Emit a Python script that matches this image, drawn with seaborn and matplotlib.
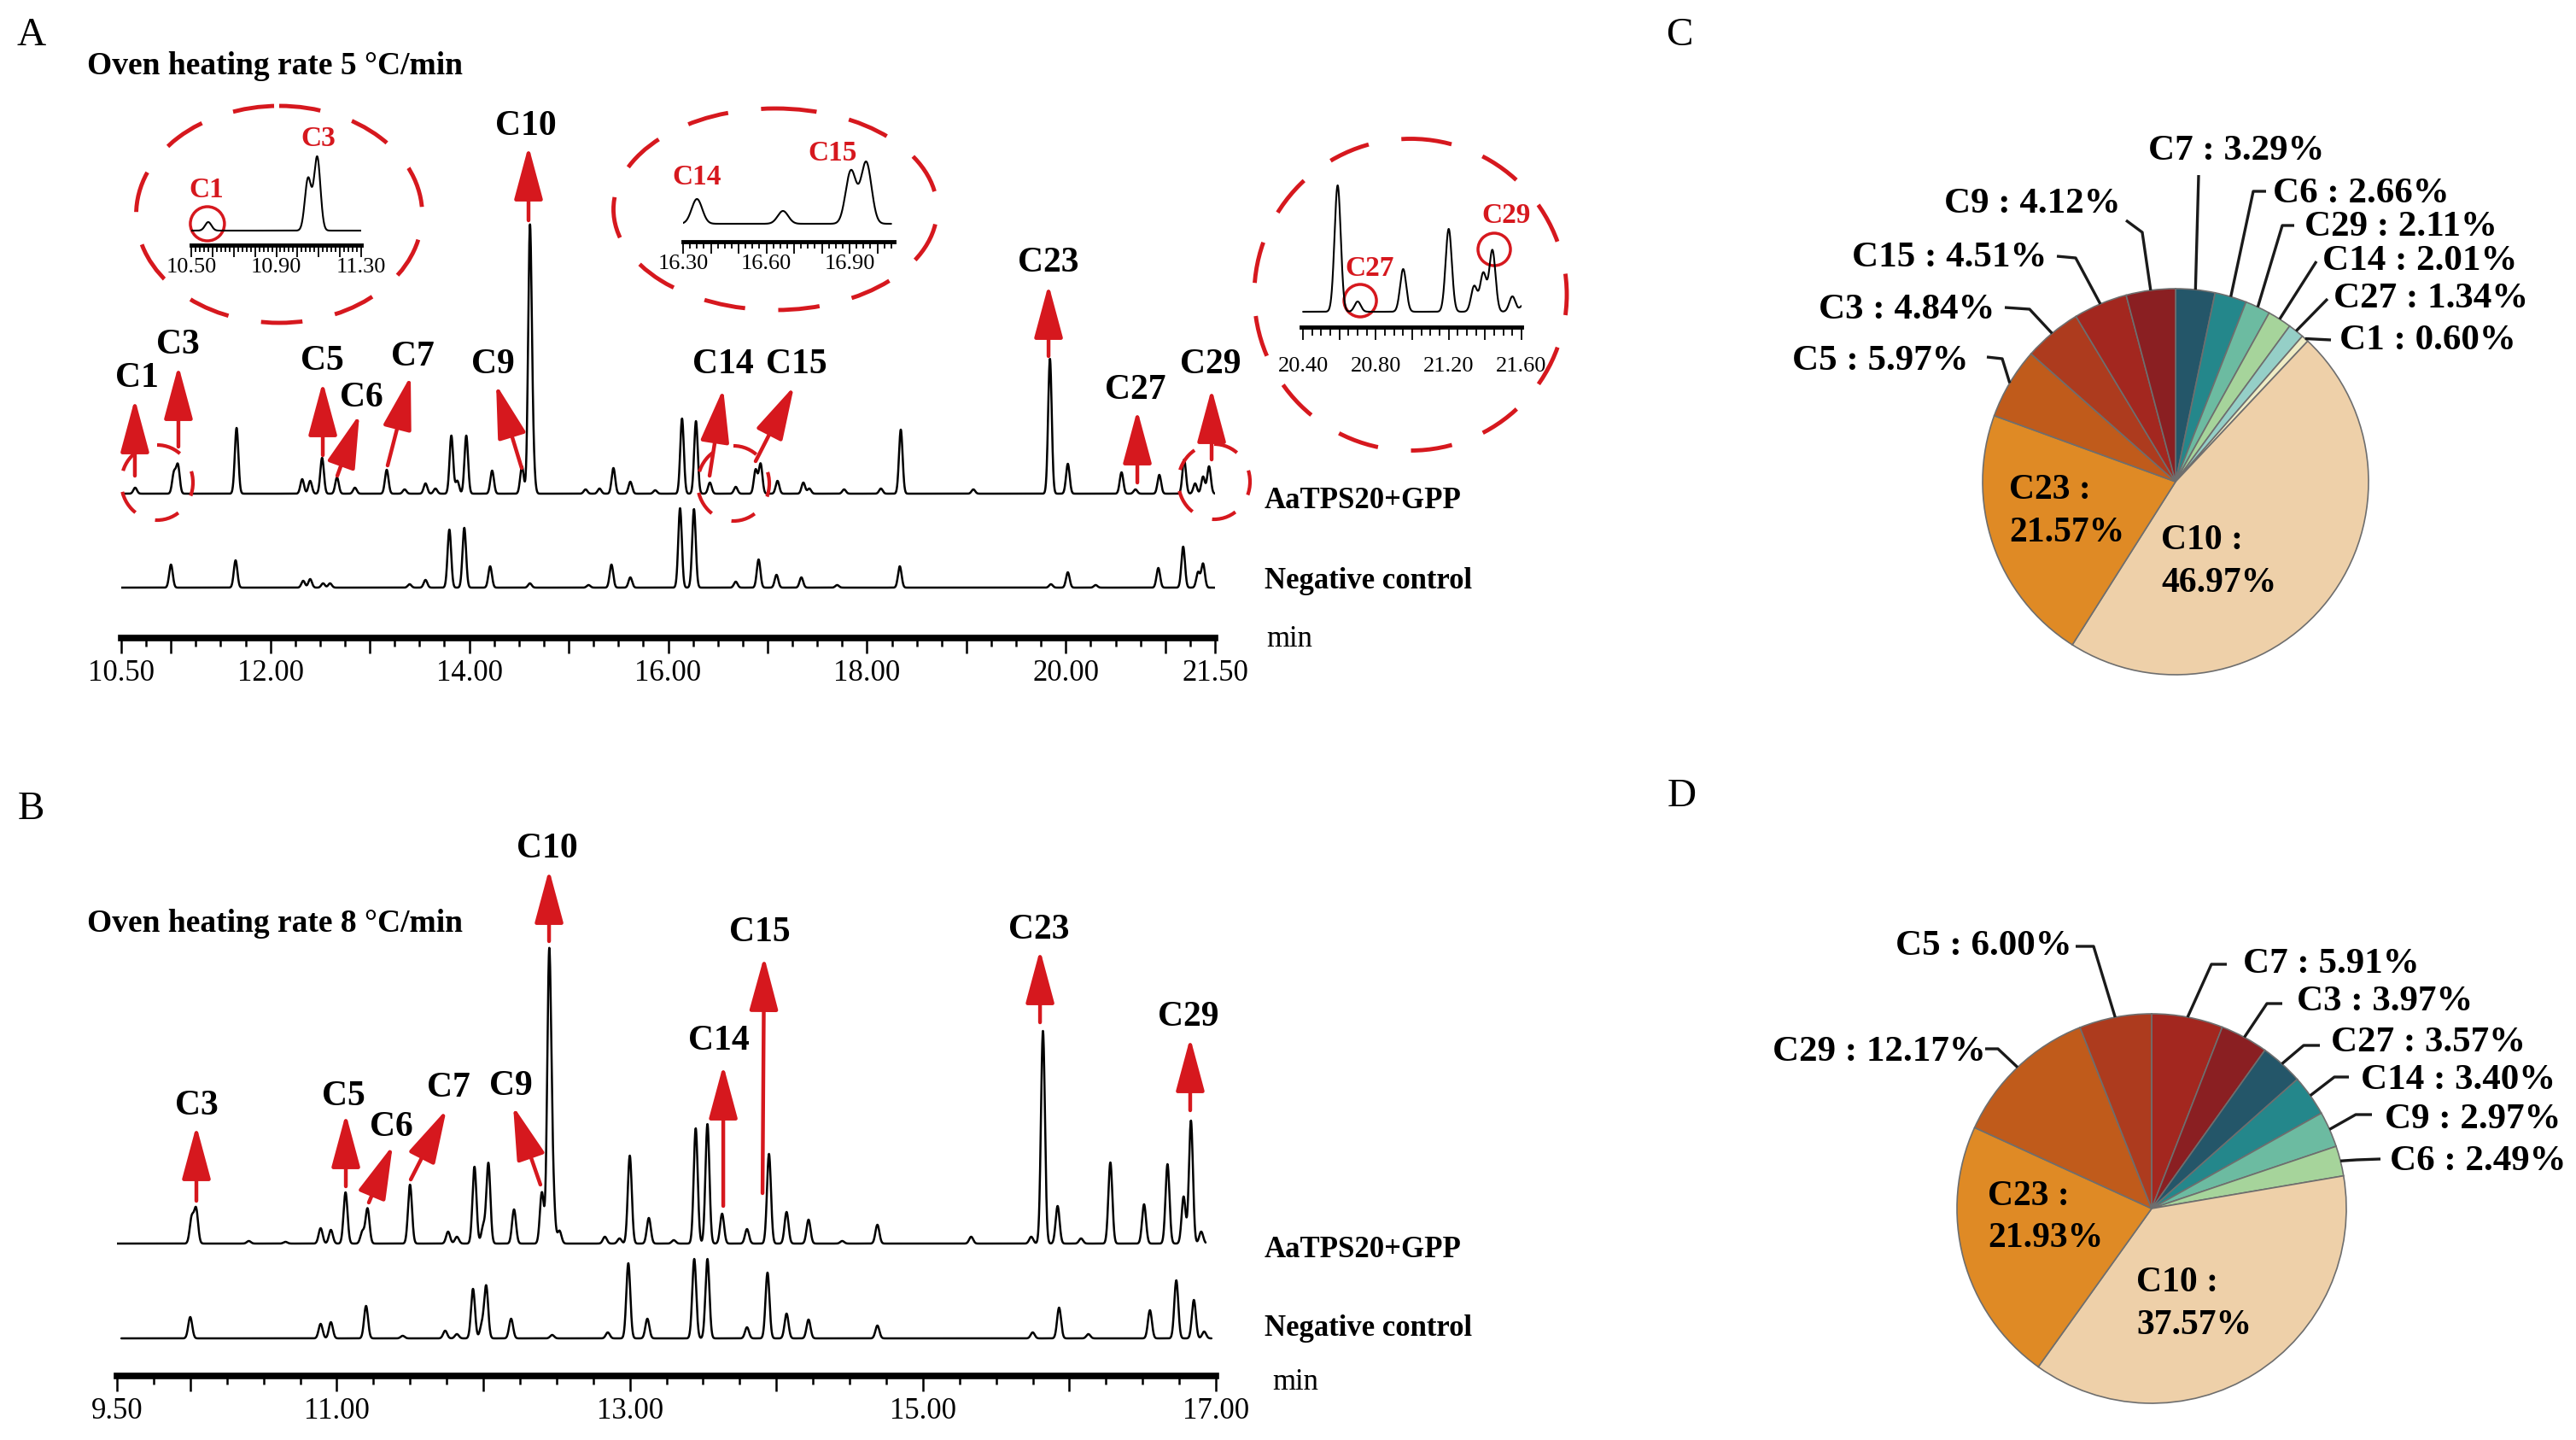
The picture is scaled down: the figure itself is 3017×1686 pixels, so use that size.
import numpy as np
import pandas as pd
import seaborn as sns
import matplotlib.pyplot as plt
from matplotlib.patches import Ellipse

sns.set_style('white', rc={'axes.edgecolor': 'black', 'xtick.color': 'black', 'text.color': 'black'})
plt.rcParams['font.family'] = ['Liberation Serif', 'DejaVu Serif']

W, H, DPI = 3017, 1686, 100
PT = DPI / 72.0
RED = '#d6181e'

# ---------------- data ----------------
# Panel A, oven heating rate 5 °C/min: retention time (min) and peak height
a_gpp_rt = [10.64, 11.03, 11.07, 11.66, 12.32, 12.40, 12.52, 12.67, 12.85, 13.17, 13.35, 13.56, 13.66,
            13.82, 13.88, 13.97, 14.23, 14.53, 14.61, 14.64, 15.17, 15.31, 15.45, 15.62, 15.87,
            16.14, 16.28, 16.42, 16.68, 16.88, 16.93, 17.10, 17.36, 17.42, 17.77, 18.14, 18.34,
            19.07, 19.84, 20.02, 20.56, 20.70, 20.94, 21.19, 21.30, 21.38, 21.44]
a_gpp_h = [7, 24, 33, 77, 17, 15, 42, 19, 7, 28, 5, 12, 6,
           68, 15, 68, 27, 32, 305, 40, 5, 6, 30, 14, 4,
           88, 85, 13, 8, 28, 35, 15, 13, 6, 5, 6, 75,
           5, 158, 35, 25, 5, 22, 40, 12, 20, 32]
a_neg_rt = [11.00, 11.65, 12.33, 12.40, 12.53, 12.60, 13.40, 13.56, 13.80, 13.95, 14.21, 14.61, 15.20,
            15.43, 15.62, 16.12, 16.26, 16.68, 16.91, 17.09, 17.34, 17.70, 18.33, 19.85, 20.02, 20.30,
            20.93, 21.18, 21.33, 21.38]
a_neg_h = [27, 32, 8, 10, 5, 5, 4, 9, 68, 70, 25, 5, 3,
           27, 12, 93, 92, 7, 33, 15, 12, 3, 25, 4, 18, 3,
           23, 48, 18, 28]

# Panel B, oven heating rate 8 °C/min
b_gpp_rt = [10.01, 10.04, 10.40, 10.65, 10.89, 10.96, 11.06, 11.175, 11.21, 11.50,
            11.76, 11.82, 11.94, 12.00, 12.035, 12.21, 12.40, 12.45, 12.475, 12.52,
            12.83, 12.93, 13.00, 13.13, 13.30, 13.45, 13.53, 13.63, 13.80, 13.95,
            14.07, 14.22, 14.45, 14.69, 15.33, 15.74, 15.82, 15.92, 16.08, 16.28,
            16.51, 16.67, 16.78, 16.83, 16.90]
b_gpp_h = [30, 40, 3, 2, 18, 16, 60, 14, 41, 69,
           14, 8, 90, 20, 94, 40, 60, 335, 60, 15,
           8, 6, 103, 30, 4, 135, 140, 35, 17, 105,
           37, 28, 3, 22, 8, 8, 249, 44, 6, 95,
           46, 93, 55, 144, 14]
b_neg_rt = [10.00, 10.89, 10.96, 11.20, 11.45, 11.74, 11.82, 11.93, 11.99, 12.02, 12.19, 12.47,
            12.85, 12.99, 13.12, 13.44, 13.53, 13.80, 13.94, 14.07, 14.22, 14.69, 15.75, 15.93,
            16.13, 16.55, 16.73, 16.85, 16.92]
b_neg_h = [25, 17, 19, 38, 3, 9, 5, 58, 15, 61, 23, 4,
           7, 88, 23, 93, 93, 13, 77, 29, 22, 15, 7, 36,
           5, 33, 68, 45, 8]

# zoomed insets of panel A
i1_rt, i1_h = [10.58, 11.05, 11.093], [10, 61, 86]
i2_rt, i2_h = [16.35, 16.66, 16.905, 16.96], [29, 15, 62, 72]
i3_rt = [20.59, 20.70, 20.95, 21.20, 21.34, 21.39, 21.44, 21.55, 21.61]
i3_h = [148, 12, 50, 97, 30, 45, 72, 18, 8]

# tick labels of the time axes
a_labeled = [10.5, 12, 14, 16, 18, 20, 21.5]
b_labeled = [9.5, 11, 13, 15, 17]
i1_labeled = [10.5, 10.9, 11.3]
i2_labeled = [16.3, 16.6, 16.9]
i3_labeled = [20.4, 20.8, 21.2, 21.6]

# pie C and D: compound shares (%), clockwise from 12 o'clock
c_names = ['C7', 'C6', 'C29', 'C14', 'C27', 'C1', 'C10', 'C23', 'C5', 'C3', 'C15', 'C9']
c_pct = [3.29, 2.66, 2.11, 2.01, 1.34, 0.60, 46.97, 21.57, 5.97, 4.84, 4.51, 4.12]
d_names = ['C7', 'C3', 'C27', 'C14', 'C9', 'C6', 'C10', 'C23', 'C29', 'C5']
d_pct = [5.91, 3.97, 3.57, 3.40, 2.97, 2.49, 37.57, 21.93, 12.17, 6.00]

c_colors = ['#245669', '#24878b', '#6cbba1', '#a6d49b', '#95cfc7', '#efecc5',
            '#eed0a9', '#df8a25', '#c05b1b', '#ad3b1e', '#a3271f', '#8a1f22']
d_colors = ['#a3271f', '#8a1f22', '#245669', '#24878b', '#6cbba1', '#a6d49b',
            '#eed0a9', '#df8a25', '#c05b1b', '#ad3b1e']

# ---------------- annotation layout ----------------
# name, arrow tail (t, y), arrow tip (t, y), label centre (t, y)
A_ARROWS = [
    ('C1', (10.637, 190), (10.637, 280), (10.655, 308)),
    ('C3', (11.075, 224), (11.075, 319), (11.067, 347)),
    ('C5', (12.527, 214), (12.527, 300), (12.518, 328)),
    ('C6', (12.673, 190), (12.896, 262), (12.913, 285)),
    ('C7', (13.179, 202), (13.411, 307), (13.428, 333)),
    ('C9', (14.527, 199), (14.270, 297), (14.235, 324)),
    ('C10', (14.596, 489), (14.596, 576), (14.570, 603)),
    ('C14', (16.417, 190), (16.554, 292), (16.554, 324)),
    ('C15', (16.880, 207), (17.267, 295), (17.293, 324)),
    ('C23', (19.826, 330), (19.826, 414), (19.826, 443)),
    ('C27', (20.719, 182), (20.719, 267), (20.702, 294)),
    ('C29', (21.466, 209), (21.466, 292), (21.458, 324)),
]
B_ARROWS = [
    ('C3', (10.042, 205), (10.042, 293), (10.042, 320)),
    ('C5', (11.062, 222), (11.062, 307), (11.044, 331)),
    ('C6', (11.219, 203), (11.382, 270), (11.371, 295)),
    ('C7', (11.505, 230), (11.749, 312), (11.761, 341)),
    ('C9', (12.390, 224), (12.204, 316), (12.186, 343)),
    ('C10', (12.449, 509), (12.449, 593), (12.437, 621)),
    ('C14', (13.638, 199), (13.638, 364), (13.608, 396)),
    ('C15', (13.906, 214), (13.917, 491), (13.888, 523)),
    ('C23', (15.800, 414), (15.800, 499), (15.794, 526)),
    ('C29', (16.825, 311), (16.825, 396), (16.813, 424)),
]

fig = plt.figure(figsize=(W / DPI, H / DPI), dpi=DPI)
fig.patch.set_facecolor('white')


def px_axes(x0, y0, x1, y1, **kw):
    ax = fig.add_axes([x0 / W, 1 - y1 / H, (x1 - x0) / W, (y1 - y0) / H], **kw)
    ax.patch.set_alpha(0)
    return ax


def gauss_trace(rt, h, t0, t1, sigma, base):
    t = np.linspace(t0, t1, 5000)
    y = np.full_like(t, float(base))
    for r, a in zip(rt, h):
        y += a * np.exp(-0.5 * ((t - r) / sigma) ** 2)
    return t, y


def plot_traces(ax, specs, sigma, lw=1.8):
    frames = []
    for name, rt, h, t0, t1, base in specs:
        t, y = gauss_trace(rt, h, t0, t1, sigma, base)
        frames.append(pd.DataFrame({'time': t, 'signal': y, 'sample': name}))
    df = pd.concat(frames, ignore_index=True)
    sns.lineplot(data=df, x='time', y='signal', units='sample', estimator=None,
                 color='black', linewidth=lw, ax=ax, sort=False)


def time_axis(ax, xlim, ytop, long_ticks, labeled, minor, fs, spine_lw, maj_len, min_len, tick_w, pad):
    ax.set_xlim(*xlim)
    ax.set_ylim(0, ytop)
    for s in ('top', 'right', 'left'):
        ax.spines[s].set_visible(False)
    ax.spines['bottom'].set_linewidth(spine_lw)
    ax.spines['bottom'].set_color('black')
    ax.set_yticks([])
    ax.set_xticks(long_ticks)
    ax.set_xticklabels([f'{v:.2f}' if any(abs(v - l) < 1e-6 for l in labeled) else '' for v in long_ticks])
    ax.set_xticks(minor, minor=True)
    ax.tick_params(axis='x', which='major', bottom=True, direction='out', length=maj_len,
                   width=tick_w, labelsize=fs, pad=pad, colors='black')
    ax.tick_params(axis='x', which='minor', bottom=True, direction='out', length=min_len, width=tick_w)
    ax.set_xlabel('')
    ax.set_ylabel('')
    ax.grid(False)


def red_arrow(ax, tail, tip):
    ax.annotate('', xy=tip, xytext=tail, xycoords='data', textcoords='data', annotation_clip=False,
                arrowprops=dict(arrowstyle='-|>,head_length=3.9,head_width=1.05', color=RED, lw=3.2,
                                shrinkA=0, shrinkB=0, mutation_scale=10))


def label_at(ax, s, pos, fs=30, color='black'):
    ax.annotate(s, xy=pos, xytext=(0, -0.331 * fs), textcoords='offset points', ha='center',
                va='baseline', fontsize=fs, fontweight='bold', color=color, annotation_clip=False)


# ---------------- panel A ----------------
axA = px_axes(142, 100, 1423, 747)
plot_traces(axA, [('AaTPS20+GPP', a_gpp_rt, a_gpp_h, 10.50, 21.50, 169),
                  ('Negative control', a_neg_rt, a_neg_h, 10.50, 21.50, 59)], sigma=0.018)
time_axis(axA, (10.5, 21.5), 647, [10.5] + list(range(11, 22)) + [21.5], a_labeled,
          np.arange(10.5, 21.5001, 0.25), fs=25, spine_lw=5.5, maj_len=13, min_len=7, tick_w=1.8, pad=5)
for name, tail, tip, lab in A_ARROWS:
    red_arrow(axA, tail, tip)
    label_at(axA, name, lab)

# ---------------- panel B ----------------
axB = px_axes(137, 960, 1424, 1611)
plot_traces(axB, [('AaTPS20+GPP', b_gpp_rt, b_gpp_h, 9.50, 16.93, 155),
                  ('Negative control', b_neg_rt, b_neg_h, 9.53, 16.97, 44)], sigma=0.0135)
time_axis(axB, (9.5, 17.0), 651, [9.5] + list(range(10, 18)), b_labeled,
          np.arange(9.5, 17.0001, 0.25), fs=25, spine_lw=5.5, maj_len=13, min_len=7, tick_w=1.8, pad=5)
for name, tail, tip, lab in B_ARROWS:
    red_arrow(axB, tail, tip)
    label_at(axB, name, lab)

# ---------------- insets of panel A ----------------
ax1 = px_axes(224, 140, 423, 287)
plot_traces(ax1, [('inset', i1_rt, i1_h, 10.50, 11.30, 17)], sigma=0.015, lw=1.5)
time_axis(ax1, (10.5, 11.3), 147, np.round(np.arange(10.5, 11.3001, 0.1), 2), i1_labeled,
          np.arange(10.5, 11.3001, 0.02), fs=19, spine_lw=3.5, maj_len=10, min_len=5.5, tick_w=1.3, pad=0.5)
ax1.add_patch(Ellipse((10.576, 25), 40 / 249, 40, fill=False, edgecolor=RED, lw=2.5, clip_on=False))
label_at(ax1, 'C1', (10.572, 67), fs=24, color=RED)
label_at(ax1, 'C3', (11.098, 127), fs=24, color=RED)

ax2 = px_axes(800, 140, 1047, 283)
plot_traces(ax2, [('inset', i2_rt, i2_h, 16.30, 17.05, 21)], sigma=0.019, lw=1.5)
time_axis(ax2, (16.3, 17.06), 143, np.round(np.arange(16.3, 17.0001, 0.1), 2), i2_labeled,
          np.arange(16.3, 17.0601, 0.025), fs=19, spine_lw=3.5, maj_len=10, min_len=5.5, tick_w=1.3, pad=0.5)
label_at(ax2, 'C14', (16.349, 78), fs=24, color=RED)
label_at(ax2, 'C15', (16.838, 106), fs=24, color=RED)

ax3 = px_axes(1524, 180, 1782, 383)
plot_traces(ax3, [('inset', i3_rt, i3_h, 20.40, 21.60, 18)], sigma=0.017, lw=1.5)
time_axis(ax3, (20.39, 21.60), 203, np.round(np.arange(20.4, 21.6001, 0.2), 2), i3_labeled,
          np.arange(20.4, 21.6001, 0.05), fs=19, spine_lw=3.5, maj_len=11, min_len=7, tick_w=1.3, pad=14)
ax3.add_patch(Ellipse((20.714, 31), 38 / 213.2, 38, fill=False, edgecolor=RED, lw=2.5, clip_on=False))
ax3.add_patch(Ellipse((21.450, 91), 38 / 213.2, 38, fill=False, edgecolor=RED, lw=2.5, clip_on=False))
label_at(ax3, 'C27', (20.765, 71), fs=24, color=RED)
label_at(ax3, 'C29', (21.516, 133), fs=24, color=RED)


# ---------------- pies ----------------
def draw_pie(box, center, r, names, pcts, colors, leaders):
    ax = px_axes(*box)
    wedges, _ = ax.pie(pcts, colors=colors, startangle=90, counterclock=False, radius=1,
                       wedgeprops=dict(edgecolor='#6e6e6e', linewidth=1.2))
    x0, y0, x1, y1 = box
    cx, cy = center
    ax.set_xlim((x0 - cx) / r, (x1 - cx) / r)
    ax.set_ylim((cy - y1) / r, (cy - y0) / r)
    for name, start, knee in leaders:
        w = wedges[names.index(name)]
        mid = np.deg2rad((w.theta1 + w.theta2) / 2)
        xs = [(start[0] - cx) / r, (knee[0] - cx) / r, np.cos(mid)]
        ys = [(cy - start[1]) / r, (cy - knee[1]) / r, np.sin(mid)]
        ax.plot(xs, ys, color='#1a1a1a', lw=2.4, solid_capstyle='butt', clip_on=False)
    return ax


C_LEADERS = [('C7', (2575, 205), (2575, 205)), ('C6', (2654, 224), (2639, 224)),
             ('C29', (2687, 264), (2673, 264)), ('C14', (2713, 306), (2713, 306)),
             ('C27', (2726, 350), (2726, 350)), ('C1', (2730, 398), (2730, 398)),
             ('C9', (2490, 258), (2509, 272)), ('C15', (2409, 300), (2431, 302)),
             ('C3', (2348, 360), (2377, 362)), ('C5', (2327, 418), (2345, 420))]
D_LEADERS = [('C7', (2608, 1129), (2590, 1129)), ('C3', (2673, 1175), (2655, 1175)),
             ('C27', (2717, 1224), (2698, 1224)), ('C14', (2751, 1261), (2734, 1261)),
             ('C9', (2778, 1305), (2759, 1305)), ('C6', (2788, 1357), (2760, 1358)),
             ('C5', (2431, 1108), (2452, 1108)), ('C29', (2325, 1228), (2340, 1228))]
draw_pie((1940, 60, 3017, 880), (2548, 564), 226, c_names, c_pct, c_colors, C_LEADERS)
draw_pie((1940, 900, 3017, 1686), (2520, 1415), 228, d_names, d_pct, d_colors, D_LEADERS)

# ---------------- overlay canvas in pixel units ----------------
cv = fig.add_axes([0, 0, 1, 1], zorder=10)
cv.set_xlim(0, W)
cv.set_ylim(H, 0)
cv.axis('off')
cv.patch.set_alpha(0)


def ctext(x, y, s, fs, ha='left', weight='normal', color='black'):
    cv.text(x, y + 0.331 * fs * PT, s, fontsize=fs, ha=ha, va='baseline', fontweight=weight, color=color)


ctext(20, 37, 'A', 34)
ctext(21, 943, 'B', 34)
ctext(1951, 37, 'C', 34)
ctext(1953, 928, 'D', 34)
ctext(102, 75, 'Oven heating rate 5 °C/min', 27, weight='bold')
ctext(102, 1079, 'Oven heating rate 8 °C/min', 27, weight='bold')

ctext(1481, 584, 'AaTPS20+GPP', 25, weight='bold')
ctext(1481, 678, 'Negative control', 25, weight='bold')
cv.text(1483, 757, 'min', fontsize=25, va='baseline')
ctext(1481, 1461, 'AaTPS20+GPP', 25, weight='bold')
ctext(1481, 1553, 'Negative control', 25, weight='bold')
cv.text(1490, 1627, 'min', fontsize=25, va='baseline')

# pie labels
c_lab = dict(zip(c_names, c_pct))
for name, x, y, ha in [('C7', 2516, 173, 'left'), ('C6', 2662, 223, 'left'), ('C29', 2699, 262, 'left'),
                       ('C14', 2720, 302, 'left'), ('C27', 2733, 346, 'left'), ('C1', 2740, 395, 'left'),
                       ('C9', 2484, 235, 'right'), ('C15', 2397, 298, 'right'),
                       ('C3', 2336, 359, 'right'), ('C5', 2306, 419, 'right')]:
    ctext(x, y, f'{name} : {c_lab[name]:.2f}%', 31, ha=ha, weight='bold')
ctext(2353, 570, 'C23 :', 30, weight='bold')
ctext(2353, 620, f"{c_lab['C23']:.2f}%", 30, weight='bold')
ctext(2531, 629, 'C10 :', 30, weight='bold')
ctext(2531, 679, f"{c_lab['C10']:.2f}%", 30, weight='bold')

d_lab = dict(zip(d_names, d_pct))
for name, x, y, ha in [('C7', 2627, 1125, 'left'), ('C3', 2690, 1169, 'left'), ('C27', 2730, 1217, 'left'),
                       ('C14', 2765, 1261, 'left'), ('C9', 2793, 1307, 'left'), ('C6', 2799, 1356, 'left'),
                       ('C5', 2427, 1104, 'right'), ('C29', 2326, 1228, 'right')]:
    ctext(x, y, f'{name} : {d_lab[name]:.2f}%', 31, ha=ha, weight='bold')
ctext(2328, 1397, 'C23 :', 30, weight='bold')
ctext(2328, 1446, f"{d_lab['C23']:.2f}%", 30, weight='bold')
ctext(2502, 1498, 'C10 :', 30, weight='bold')
ctext(2502, 1548, f"{d_lab['C10']:.2f}%", 30, weight='bold')

# dashed red outlines around the zoomed regions
for (x, y, w, h) in [(327, 251, 335, 254), (908, 245, 379, 236), (1652, 345, 366, 365)]:
    cv.add_patch(Ellipse((x, y), w, h, fill=False, edgecolor=RED, lw=3.5, linestyle=(0, (10, 8))))
for (x, y) in [(184, 565), (859, 566), (1422, 564)]:
    cv.add_patch(Ellipse((x, y), 84, 88, fill=False, edgecolor=RED, lw=3.0, linestyle=(0, (7, 6))))

fig.savefig('out.png', dpi=DPI)
